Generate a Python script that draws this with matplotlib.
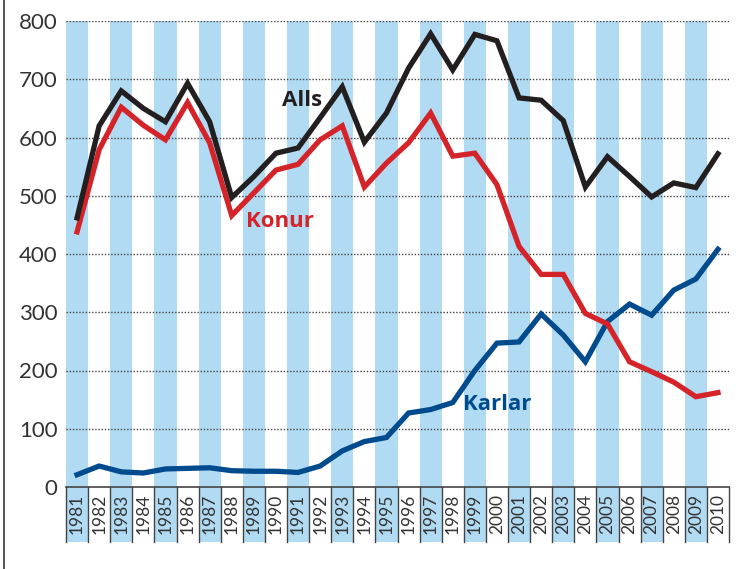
import matplotlib
matplotlib.use('Agg')
from matplotlib import pyplot as plt
import numpy as np

years = list(range(1981, 2011))
alls = [462, 620, 680, 650, 627, 693, 627, 497, 533, 573, 582, 634, 687, 592, 642,
        719, 778, 716, 777, 766, 668, 664, 629, 515, 567, 533, 498, 522, 514, 572]
konur = [438, 579, 652, 621, 596, 660, 591, 466, 505, 544, 554, 596, 620, 515, 556,
         591, 642, 568, 573, 519, 413, 365, 365, 298, 280, 215, 198, 180, 155, 162]
karlar = [21, 36, 26, 24, 31, 32, 33, 28, 27, 27, 25, 36, 62, 78, 85,
          127, 133, 145, 200, 247, 249, 297, 261, 215, 284, 314, 295, 338, 357, 408]
yticks = [0, 100, 200, 300, 400, 500, 600, 700, 800]

c_alls = '#231f20'
c_konur = '#d42329'
c_karlar = '#004b8d'
c_stripe = '#b1daf3'
c_text = '#333333'

W, H = 742, 569
fig = plt.figure(figsize=(W / 100, H / 100), dpi=100)
ax = fig.add_axes([66 / W, (H - 487) / H, (729 - 66) / W, (487 - 21) / H])
ax.set_xlim(years[0] - 0.5, years[-1] + 0.5)
ax.set_ylim(0, 800)

below = -55 / 466  # depth of the year-label cells in axes units
trans = ax.get_xaxis_transform()

# blue stripes behind odd years, reaching down into the label cells
for y in years:
    if y % 2 == 1:
        ax.add_patch(plt.Rectangle((y - 0.5, below), 1, 1 - below, transform=trans,
                                   facecolor=c_stripe, edgecolor='none',
                                   clip_on=False, zorder=0))
# cell separators
for b in np.arange(years[0] - 0.5, years[-1] + 1.5):
    ax.plot([b, b], [below, 0], transform=trans, color='#444444', lw=1.0,
            clip_on=False, zorder=1)

# dotted gridlines
for v in yticks[1:]:
    ax.axhline(v, color='#444444', lw=1.0, ls=(0, (1, 1.3)), zorder=1)

lw = 3.8
ax.plot(years, karlar, color=c_karlar, lw=lw, solid_joinstyle='miter', zorder=3)
ax.plot(years, konur, color=c_konur, lw=lw, solid_joinstyle='miter', zorder=4)
ax.plot(years, alls, color=c_alls, lw=lw, solid_joinstyle='miter', zorder=5)

lab_font = dict(family=['Open Sans', 'DejaVu Sans'], fontweight='bold', fontsize=16,
                ha='center', va='center', zorder=6)
ax.text(1991.2, 663, 'Alls', color=c_alls, **lab_font)
ax.text(1990.2, 455, 'Konur', color=c_konur, **lab_font)
ax.text(2000.0, 141, 'Karlar', color=c_karlar, **lab_font)

for s in ['top', 'right', 'left']:
    ax.spines[s].set_visible(False)
ax.spines['bottom'].set_color('#444444')
ax.spines['bottom'].set_linewidth(1.2)
ax.spines['bottom'].set_zorder(2)

ax.set_yticks(yticks)
ax.set_yticklabels([str(v) for v in yticks], color=c_text, fontsize=16,
                   family=['Lato', 'DejaVu Sans'])
ax.tick_params(axis='y', length=0, pad=6)

ax.set_xticks(years)
ax.set_xticklabels([str(y) for y in years], rotation=90, color=c_text, fontsize=12.5,
                   family=['Lato', 'DejaVu Sans'])
ax.tick_params(axis='x', length=0, pad=5)
for t in ax.get_xticklabels():
    t.set_va('top')

# left frame line of the figure
fig.add_artist(plt.Line2D([3.5 / W, 3.5 / W], [0, 1], color='#333333', lw=1.2))

fig.savefig('out.png', dpi=100)
